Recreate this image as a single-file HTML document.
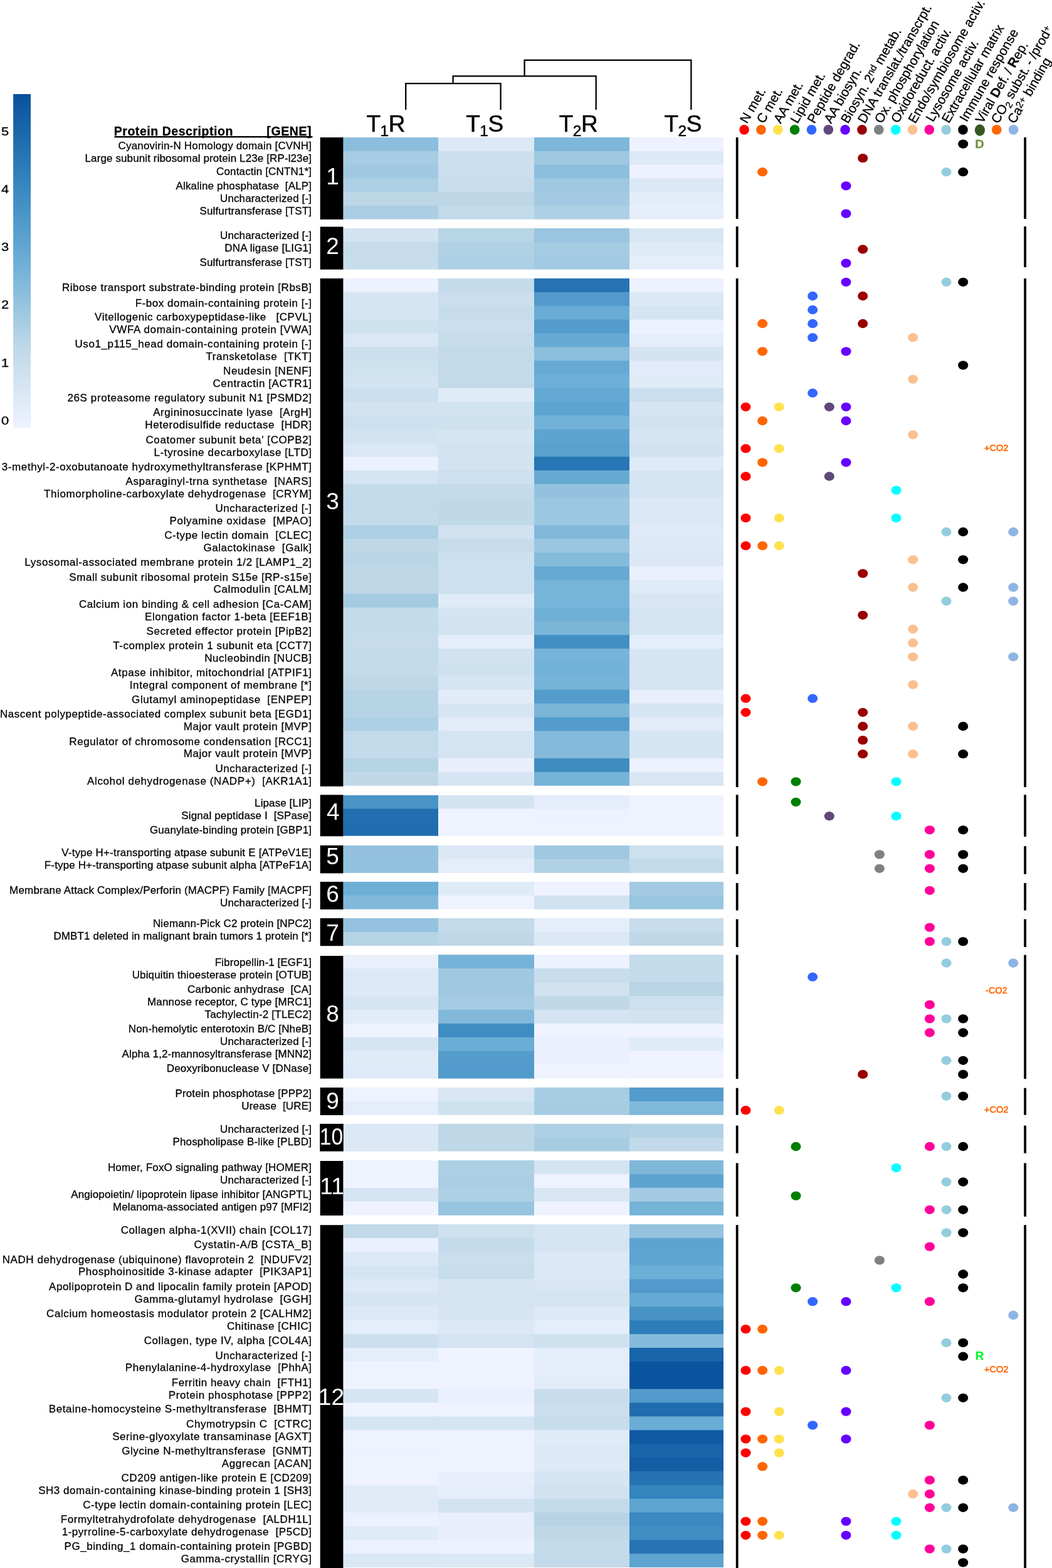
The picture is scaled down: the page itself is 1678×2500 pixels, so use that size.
<!DOCTYPE html>
<html lang="en"><head><meta charset="utf-8"><title>Protein heatmap</title>
<style>
html,body{margin:0;padding:0;background:#fff;}
body{width:1678px;height:2500px;overflow:hidden;}
svg{display:block;}
text{font-family:"Liberation Sans",sans-serif;white-space:pre;}
.lab{font-size:17px;fill:#000;stroke:#000;stroke-width:0.28px;}
.hd{font-size:19.5px;font-weight:bold;fill:#000;stroke:#000;stroke-width:0.3px;}
.cn{font-size:37px;fill:#fff;text-anchor:middle;}
.ct{font-size:37px;fill:#000;stroke:#000;stroke-width:0.5px;}
.rot{font-size:20.8px;fill:#000;stroke:#000;stroke-width:0.3px;}
.tk{font-size:18.6px;fill:#000;stroke:#000;stroke-width:0.3px;}
.mk{font-family:"Liberation Sans",sans-serif;font-weight:bold;}
</style></head><body>
<svg width="1678" height="2500" viewBox="0 0 1678 2500" role="img" aria-label="Protein abundance heatmap with functional categories">
<defs><linearGradient id="cb" x1="0" y1="1" x2="0" y2="0">
<stop offset="0" stop-color="#eff3ff"/>
<stop offset="0.25" stop-color="#bdd7e7"/>
<stop offset="0.5" stop-color="#6baed6"/>
<stop offset="0.75" stop-color="#3182bd"/>
<stop offset="1" stop-color="#08519c"/>
</linearGradient></defs>
<rect x="0" y="0" width="1678" height="2500" fill="#fff"/>
<rect x="21.1" y="150" width="27.9" height="531.9" fill="url(#cb)"/>
<text class="tk" transform="translate(2.1,677.0) scale(1.18,1)" x="0" y="0">0</text>
<text class="tk" transform="translate(2.1,584.7) scale(1.18,1)" x="0" y="0">1</text>
<text class="tk" transform="translate(2.1,492.4) scale(1.18,1)" x="0" y="0">2</text>
<text class="tk" transform="translate(2.1,400.1) scale(1.18,1)" x="0" y="0">3</text>
<text class="tk" transform="translate(2.1,307.8) scale(1.18,1)" x="0" y="0">4</text>
<text class="tk" transform="translate(2.1,215.5) scale(1.18,1)" x="0" y="0">5</text>
<g fill="none" stroke="#000" stroke-width="2.3" stroke-linejoin="miter">
<path d="M647.2 175 V133.2 H798.6 V175"/>
<path d="M722.6 133.2 V121.3 H950.7 V175"/>
<path d="M836.6 121.3 V95.8 H1102.4 V175"/>
</g>
<text class="ct" x="584.6" y="209.9">T<tspan font-size="24.5" dx="-0.6" dy="6.8">1</tspan><tspan dx="-0.5" dy="-6.8">R</tspan></text>
<text class="ct" x="743.3" y="209.9">T<tspan font-size="24.5" dx="-0.6" dy="6.8">1</tspan><tspan dx="-0.5" dy="-6.8">S</tspan></text>
<text class="ct" x="891.8" y="209.9">T<tspan font-size="24.5" dx="-0.6" dy="6.8">2</tspan><tspan dx="-0.5" dy="-6.8">R</tspan></text>
<text class="ct" x="1059.6" y="209.9">T<tspan font-size="24.5" dx="-0.6" dy="6.8">2</tspan><tspan dx="-0.5" dy="-6.8">S</tspan></text>
<text class="hd" x="181.7" y="215.8" textLength="189.7" lengthAdjust="spacing">Protein Description</text>
<text class="hd" x="425.3" y="215.8" textLength="71.2" lengthAdjust="spacing">[GENE]</text>
<rect x="182.5" y="217.0" width="316.0" height="2.4" fill="#000"/>
<rect x="547.2" y="219.10" width="152.8" height="22.77" fill="#8abedc"/>
<rect x="699.0" y="219.10" width="154.0" height="22.77" fill="#dbe8f5"/>
<rect x="852.0" y="219.10" width="153.0" height="22.77" fill="#7eb7da"/>
<rect x="1004.0" y="219.10" width="150.0" height="22.77" fill="#eef2ff"/>
<text class="lab" x="188.5" y="238.4" textLength="308.5" lengthAdjust="spacing">Cyanovirin-N Homology domain [CVNH]</text>
<rect x="547.2" y="240.87" width="152.8" height="22.77" fill="#a8cce3"/>
<rect x="699.0" y="240.87" width="154.0" height="22.77" fill="#cbdfee"/>
<rect x="852.0" y="240.87" width="153.0" height="22.77" fill="#9fc8e1"/>
<rect x="1004.0" y="240.87" width="150.0" height="22.77" fill="#dde9f6"/>
<text class="lab" x="135.5" y="258.4" textLength="361.5" lengthAdjust="spacing">Large subunit ribosomal protein L23e [RP-l23e]</text>
<rect x="547.2" y="262.63" width="152.8" height="22.77" fill="#a0c9e1"/>
<rect x="699.0" y="262.63" width="154.0" height="22.77" fill="#cbdfee"/>
<rect x="852.0" y="262.63" width="153.0" height="22.77" fill="#8cbedd"/>
<rect x="1004.0" y="262.63" width="150.0" height="22.77" fill="#eef2ff"/>
<text class="lab" x="345.0" y="278.9" textLength="152.0" lengthAdjust="spacing">Contactin [CNTN1*]</text>
<rect x="547.2" y="284.40" width="152.8" height="22.77" fill="#aed0e4"/>
<rect x="699.0" y="284.40" width="154.0" height="22.77" fill="#c9deed"/>
<rect x="852.0" y="284.40" width="153.0" height="22.77" fill="#9fc8e1"/>
<rect x="1004.0" y="284.40" width="150.0" height="22.77" fill="#dbe8f5"/>
<text class="lab" x="280.5" y="302.1" textLength="216.5" lengthAdjust="spacing">Alkaline phosphatase  [ALP]</text>
<rect x="547.2" y="306.17" width="152.8" height="22.77" fill="#bdd7e7"/>
<rect x="699.0" y="306.17" width="154.0" height="22.77" fill="#bdd7e7"/>
<rect x="852.0" y="306.17" width="153.0" height="22.77" fill="#a3cae2"/>
<rect x="1004.0" y="306.17" width="150.0" height="22.77" fill="#e3ecf9"/>
<text class="lab" x="351.0" y="322.0" textLength="146.0" lengthAdjust="spacing">Uncharacterized [-]</text>
<rect x="547.2" y="327.93" width="152.8" height="21.77" fill="#abcee3"/>
<rect x="699.0" y="327.93" width="154.0" height="21.77" fill="#c2dae9"/>
<rect x="852.0" y="327.93" width="153.0" height="21.77" fill="#afd0e4"/>
<rect x="1004.0" y="327.93" width="150.0" height="21.77" fill="#e6eefb"/>
<text class="lab" x="318.5" y="341.9" textLength="178.5" lengthAdjust="spacing">Sulfurtransferase [TST]</text>
<rect x="510.7" y="219.1" width="36.7" height="130.8" fill="#000"/>
<text class="cn" x="530.5" y="293.9">1</text>
<rect x="1173.8" y="219.1" width="3.8" height="129.9" fill="#000"/>
<rect x="1633.2" y="219.1" width="3.8" height="129.9" fill="#000"/>
<rect x="547.2" y="364.00" width="152.8" height="22.87" fill="#d3e3f2"/>
<rect x="699.0" y="364.00" width="154.0" height="22.87" fill="#b8d5e6"/>
<rect x="852.0" y="364.00" width="153.0" height="22.87" fill="#99c5e0"/>
<rect x="1004.0" y="364.00" width="150.0" height="22.87" fill="#d7e6f3"/>
<text class="lab" x="351.0" y="381.0" textLength="146.0" lengthAdjust="spacing">Uncharacterized [-]</text>
<rect x="547.2" y="385.87" width="152.8" height="22.87" fill="#c6dceb"/>
<rect x="699.0" y="385.87" width="154.0" height="22.87" fill="#b1d1e4"/>
<rect x="852.0" y="385.87" width="153.0" height="22.87" fill="#a4cbe2"/>
<rect x="1004.0" y="385.87" width="150.0" height="22.87" fill="#dfeaf7"/>
<text class="lab" x="358.3" y="400.9" textLength="138.7" lengthAdjust="spacing">DNA ligase [LIG1]</text>
<rect x="547.2" y="407.73" width="152.8" height="21.87" fill="#c7ddec"/>
<rect x="699.0" y="407.73" width="154.0" height="21.87" fill="#aed0e4"/>
<rect x="852.0" y="407.73" width="153.0" height="21.87" fill="#a1c9e1"/>
<rect x="1004.0" y="407.73" width="150.0" height="21.87" fill="#e5edfa"/>
<text class="lab" x="318.5" y="424.1" textLength="178.5" lengthAdjust="spacing">Sulfurtransferase [TST]</text>
<rect x="510.7" y="361.5" width="36.7" height="68.2" fill="#000"/>
<text class="cn" x="530.5" y="405.4">2</text>
<rect x="1173.8" y="361.1" width="3.8" height="64.9" fill="#000"/>
<rect x="1633.2" y="361.1" width="3.8" height="64.9" fill="#000"/>
<rect x="547.2" y="443.90" width="152.8" height="22.86" fill="#ecf2fe"/>
<rect x="699.0" y="443.90" width="154.0" height="22.86" fill="#c4dbeb"/>
<rect x="852.0" y="443.90" width="153.0" height="22.86" fill="#2573b3"/>
<rect x="1004.0" y="443.90" width="150.0" height="22.86" fill="#eef2fe"/>
<text class="lab" x="99.0" y="464.4" textLength="398.0" lengthAdjust="spacing">Ribose transport substrate-binding protein [RbsB]</text>
<rect x="547.2" y="465.76" width="152.8" height="22.86" fill="#d6e5f3"/>
<rect x="699.0" y="465.76" width="154.0" height="22.86" fill="#cadeed"/>
<rect x="852.0" y="465.76" width="153.0" height="22.86" fill="#519acb"/>
<rect x="1004.0" y="465.76" width="150.0" height="22.86" fill="#dbe8f5"/>
<text class="lab" x="215.7" y="488.5" textLength="281.3" lengthAdjust="spacing">F-box domain-containing protein [-]</text>
<rect x="547.2" y="487.62" width="152.8" height="22.86" fill="#d6e5f3"/>
<rect x="699.0" y="487.62" width="154.0" height="22.86" fill="#c6dceb"/>
<rect x="852.0" y="487.62" width="153.0" height="22.86" fill="#68acd5"/>
<rect x="1004.0" y="487.62" width="150.0" height="22.86" fill="#d6e5f3"/>
<text class="lab" x="151.1" y="511.0" textLength="345.9" lengthAdjust="spacing">Vitellogenic carboxypeptidase-like   [CPVL]</text>
<rect x="547.2" y="509.49" width="152.8" height="22.86" fill="#cee1ef"/>
<rect x="699.0" y="509.49" width="154.0" height="22.86" fill="#cadeed"/>
<rect x="852.0" y="509.49" width="153.0" height="22.86" fill="#549ccc"/>
<rect x="1004.0" y="509.49" width="150.0" height="22.86" fill="#ebf1fd"/>
<text class="lab" x="174.3" y="530.9" textLength="322.7" lengthAdjust="spacing">VWFA domain-containing protein [VWA]</text>
<rect x="547.2" y="531.35" width="152.8" height="22.86" fill="#dae7f5"/>
<rect x="699.0" y="531.35" width="154.0" height="22.86" fill="#c6dceb"/>
<rect x="852.0" y="531.35" width="153.0" height="22.86" fill="#66aad4"/>
<rect x="1004.0" y="531.35" width="150.0" height="22.86" fill="#e4edfa"/>
<text class="lab" x="119.5" y="554.1" textLength="377.5" lengthAdjust="spacing">Uso1_p115_head domain-containing protein [-]</text>
<rect x="547.2" y="553.21" width="152.8" height="22.86" fill="#ccdfee"/>
<rect x="699.0" y="553.21" width="154.0" height="22.86" fill="#c3daea"/>
<rect x="852.0" y="553.21" width="153.0" height="22.86" fill="#8abedc"/>
<rect x="1004.0" y="553.21" width="150.0" height="22.86" fill="#d5e4f3"/>
<text class="lab" x="328.5" y="574.0" textLength="168.5" lengthAdjust="spacing">Transketolase  [TKT]</text>
<rect x="547.2" y="575.07" width="152.8" height="22.86" fill="#cee1ef"/>
<rect x="699.0" y="575.07" width="154.0" height="22.86" fill="#c3daea"/>
<rect x="852.0" y="575.07" width="153.0" height="22.86" fill="#66aad4"/>
<rect x="1004.0" y="575.07" width="150.0" height="22.86" fill="#e2ebf9"/>
<text class="lab" x="356.0" y="596.9" textLength="141.0" lengthAdjust="spacing">Neudesin [NENF]</text>
<rect x="547.2" y="596.94" width="152.8" height="22.86" fill="#d2e3f1"/>
<rect x="699.0" y="596.94" width="154.0" height="22.86" fill="#c3daea"/>
<rect x="852.0" y="596.94" width="153.0" height="22.86" fill="#6dafd7"/>
<rect x="1004.0" y="596.94" width="150.0" height="22.86" fill="#e0ebf8"/>
<text class="lab" x="339.5" y="617.2" textLength="157.5" lengthAdjust="spacing">Centractin [ACTR1]</text>
<rect x="547.2" y="618.80" width="152.8" height="22.86" fill="#ccdfee"/>
<rect x="699.0" y="618.80" width="154.0" height="22.86" fill="#e0ebf8"/>
<rect x="852.0" y="618.80" width="153.0" height="22.86" fill="#64a9d3"/>
<rect x="1004.0" y="618.80" width="150.0" height="22.86" fill="#cbdfee"/>
<text class="lab" x="107.5" y="640.0" textLength="389.5" lengthAdjust="spacing">26S proteasome regulatory subunit N1 [PSMD2]</text>
<rect x="547.2" y="640.66" width="152.8" height="22.86" fill="#d2e3f1"/>
<rect x="699.0" y="640.66" width="154.0" height="22.86" fill="#d2e3f1"/>
<rect x="852.0" y="640.66" width="153.0" height="22.86" fill="#5ea4d0"/>
<rect x="1004.0" y="640.66" width="150.0" height="22.86" fill="#d6e5f3"/>
<text class="lab" x="244.2" y="663.3" textLength="252.8" lengthAdjust="spacing">Argininosuccinate lyase  [ArgH]</text>
<rect x="547.2" y="662.52" width="152.8" height="22.86" fill="#cde0ef"/>
<rect x="699.0" y="662.52" width="154.0" height="22.86" fill="#cee1ef"/>
<rect x="852.0" y="662.52" width="153.0" height="22.86" fill="#73b2d8"/>
<rect x="1004.0" y="662.52" width="150.0" height="22.86" fill="#d0e2f0"/>
<text class="lab" x="231.3" y="683.1" textLength="265.7" lengthAdjust="spacing">Heterodisulfide reductase  [HDR]</text>
<rect x="547.2" y="684.38" width="152.8" height="22.86" fill="#d2e3f1"/>
<rect x="699.0" y="684.38" width="154.0" height="22.86" fill="#d6e5f3"/>
<rect x="852.0" y="684.38" width="153.0" height="22.86" fill="#5ea4d0"/>
<rect x="1004.0" y="684.38" width="150.0" height="22.86" fill="#d6e5f3"/>
<text class="lab" x="232.5" y="706.7" textLength="264.5" lengthAdjust="spacing">Coatomer subunit beta&#x27; [COPB2]</text>
<rect x="547.2" y="706.25" width="152.8" height="22.86" fill="#dae7f5"/>
<rect x="699.0" y="706.25" width="154.0" height="22.86" fill="#d2e3f1"/>
<rect x="852.0" y="706.25" width="153.0" height="22.86" fill="#5aa1ce"/>
<rect x="1004.0" y="706.25" width="150.0" height="22.86" fill="#d1e2f1"/>
<text class="lab" x="245.5" y="726.7" textLength="251.5" lengthAdjust="spacing">L-tyrosine decarboxylase [LTD]</text>
<rect x="547.2" y="728.11" width="152.8" height="22.86" fill="#ebf1fd"/>
<rect x="699.0" y="728.11" width="154.0" height="22.86" fill="#d2e3f1"/>
<rect x="852.0" y="728.11" width="153.0" height="22.86" fill="#2776b5"/>
<rect x="1004.0" y="728.11" width="150.0" height="22.86" fill="#deeaf7"/>
<text class="lab" x="2.8" y="749.8" textLength="494.2" lengthAdjust="spacing">3-methyl-2-oxobutanoate hydroxymethyltransferase [KPHMT]</text>
<rect x="547.2" y="749.97" width="152.8" height="22.86" fill="#d6e5f3"/>
<rect x="699.0" y="749.97" width="154.0" height="22.86" fill="#cde0ef"/>
<rect x="852.0" y="749.97" width="153.0" height="22.86" fill="#66aad4"/>
<rect x="1004.0" y="749.97" width="150.0" height="22.86" fill="#d4e4f2"/>
<text class="lab" x="200.5" y="773.0" textLength="296.5" lengthAdjust="spacing">Asparaginyl-trna synthetase  [NARS]</text>
<rect x="547.2" y="771.83" width="152.8" height="22.86" fill="#c4dbeb"/>
<rect x="699.0" y="771.83" width="154.0" height="22.86" fill="#c4dbeb"/>
<rect x="852.0" y="771.83" width="153.0" height="22.86" fill="#94c2de"/>
<rect x="1004.0" y="771.83" width="150.0" height="22.86" fill="#d6e5f3"/>
<text class="lab" x="70.1" y="792.9" textLength="426.9" lengthAdjust="spacing">Thiomorpholine-carboxylate dehydrogenase  [CRYM]</text>
<rect x="547.2" y="793.69" width="152.8" height="22.86" fill="#c3daea"/>
<rect x="699.0" y="793.69" width="154.0" height="22.86" fill="#c0d9e9"/>
<rect x="852.0" y="793.69" width="153.0" height="22.86" fill="#9cc7e0"/>
<rect x="1004.0" y="793.69" width="150.0" height="22.86" fill="#dbe8f5"/>
<text class="lab" x="343.4" y="816.1" textLength="153.6" lengthAdjust="spacing">Uncharacterized [-]</text>
<rect x="547.2" y="815.56" width="152.8" height="22.86" fill="#c4dbeb"/>
<rect x="699.0" y="815.56" width="154.0" height="22.86" fill="#c0d9e9"/>
<rect x="852.0" y="815.56" width="153.0" height="22.86" fill="#9cc7e0"/>
<rect x="1004.0" y="815.56" width="150.0" height="22.86" fill="#dbe8f5"/>
<text class="lab" x="270.5" y="835.7" textLength="226.5" lengthAdjust="spacing">Polyamine oxidase  [MPAO]</text>
<rect x="547.2" y="837.42" width="152.8" height="22.86" fill="#aed0e4"/>
<rect x="699.0" y="837.42" width="154.0" height="22.86" fill="#d1e2f1"/>
<rect x="852.0" y="837.42" width="153.0" height="22.86" fill="#82b9db"/>
<rect x="1004.0" y="837.42" width="150.0" height="22.86" fill="#deeaf7"/>
<text class="lab" x="262.2" y="858.9" textLength="234.8" lengthAdjust="spacing">C-type lectin domain  [CLEC]</text>
<rect x="547.2" y="859.28" width="152.8" height="22.86" fill="#bed8e7"/>
<rect x="699.0" y="859.28" width="154.0" height="22.86" fill="#c6dceb"/>
<rect x="852.0" y="859.28" width="153.0" height="22.86" fill="#9bc6e0"/>
<rect x="1004.0" y="859.28" width="150.0" height="22.86" fill="#dde9f6"/>
<text class="lab" x="324.5" y="878.8" textLength="172.5" lengthAdjust="spacing">Galactokinase  [Galk]</text>
<rect x="547.2" y="881.14" width="152.8" height="22.86" fill="#b9d5e6"/>
<rect x="699.0" y="881.14" width="154.0" height="22.86" fill="#cde0ef"/>
<rect x="852.0" y="881.14" width="153.0" height="22.86" fill="#85bbdb"/>
<rect x="1004.0" y="881.14" width="150.0" height="22.86" fill="#dce8f6"/>
<text class="lab" x="39.3" y="902.0" textLength="457.7" lengthAdjust="spacing">Lysosomal-associated membrane protein 1/2 [LAMP1_2]</text>
<rect x="547.2" y="903.01" width="152.8" height="22.86" fill="#bed8e7"/>
<rect x="699.0" y="903.01" width="154.0" height="22.86" fill="#cde0ef"/>
<rect x="852.0" y="903.01" width="153.0" height="22.86" fill="#66aad4"/>
<rect x="1004.0" y="903.01" width="150.0" height="22.86" fill="#e9f0fc"/>
<text class="lab" x="110.3" y="925.6" textLength="386.7" lengthAdjust="spacing">Small subunit ribosomal protein S15e [RP-s15e]</text>
<rect x="547.2" y="924.87" width="152.8" height="22.86" fill="#bed8e7"/>
<rect x="699.0" y="924.87" width="154.0" height="22.86" fill="#cde0ef"/>
<rect x="852.0" y="924.87" width="153.0" height="22.86" fill="#77b4d9"/>
<rect x="1004.0" y="924.87" width="150.0" height="22.86" fill="#deeaf7"/>
<text class="lab" x="340.5" y="945.4" textLength="156.5" lengthAdjust="spacing">Calmodulin [CALM]</text>
<rect x="547.2" y="946.73" width="152.8" height="22.86" fill="#a4cbe2"/>
<rect x="699.0" y="946.73" width="154.0" height="22.86" fill="#e0ebf8"/>
<rect x="852.0" y="946.73" width="153.0" height="22.86" fill="#77b4d9"/>
<rect x="1004.0" y="946.73" width="150.0" height="22.86" fill="#d8e6f4"/>
<text class="lab" x="125.9" y="968.7" textLength="371.1" lengthAdjust="spacing">Calcium ion binding &amp; cell adhesion [Ca-CAM]</text>
<rect x="547.2" y="968.59" width="152.8" height="22.86" fill="#c4dbeb"/>
<rect x="699.0" y="968.59" width="154.0" height="22.86" fill="#d5e4f3"/>
<rect x="852.0" y="968.59" width="153.0" height="22.86" fill="#6fb0d7"/>
<rect x="1004.0" y="968.59" width="150.0" height="22.86" fill="#d4e4f2"/>
<text class="lab" x="231.0" y="988.6" textLength="266.0" lengthAdjust="spacing">Elongation factor 1-beta [EEF1B]</text>
<rect x="547.2" y="990.45" width="152.8" height="22.86" fill="#c4dbeb"/>
<rect x="699.0" y="990.45" width="154.0" height="22.86" fill="#d2e3f1"/>
<rect x="852.0" y="990.45" width="153.0" height="22.86" fill="#7bb6d9"/>
<rect x="1004.0" y="990.45" width="150.0" height="22.86" fill="#d4e4f2"/>
<text class="lab" x="233.5" y="1011.8" textLength="263.5" lengthAdjust="spacing">Secreted effector protein [PipB2]</text>
<rect x="547.2" y="1012.32" width="152.8" height="22.86" fill="#c6dceb"/>
<rect x="699.0" y="1012.32" width="154.0" height="22.86" fill="#e5edfa"/>
<rect x="852.0" y="1012.32" width="153.0" height="22.86" fill="#428fc4"/>
<rect x="1004.0" y="1012.32" width="150.0" height="22.86" fill="#e4edfa"/>
<text class="lab" x="180.2" y="1035.0" textLength="316.8" lengthAdjust="spacing">T-complex protein 1 subunit eta [CCT7]</text>
<rect x="547.2" y="1034.18" width="152.8" height="22.86" fill="#c4dbeb"/>
<rect x="699.0" y="1034.18" width="154.0" height="22.86" fill="#d1e2f1"/>
<rect x="852.0" y="1034.18" width="153.0" height="22.86" fill="#77b4d9"/>
<rect x="1004.0" y="1034.18" width="150.0" height="22.86" fill="#d6e5f3"/>
<text class="lab" x="326.2" y="1054.9" textLength="170.8" lengthAdjust="spacing">Nucleobindin [NUCB]</text>
<rect x="547.2" y="1056.04" width="152.8" height="22.86" fill="#c4dbeb"/>
<rect x="699.0" y="1056.04" width="154.0" height="22.86" fill="#cee1ef"/>
<rect x="852.0" y="1056.04" width="153.0" height="22.86" fill="#73b2d8"/>
<rect x="1004.0" y="1056.04" width="150.0" height="22.86" fill="#d6e5f3"/>
<text class="lab" x="176.9" y="1077.8" textLength="320.1" lengthAdjust="spacing">Atpase inhibitor, mitochondrial [ATPIF1]</text>
<rect x="547.2" y="1077.90" width="152.8" height="22.86" fill="#bed8e7"/>
<rect x="699.0" y="1077.90" width="154.0" height="22.86" fill="#d6e5f3"/>
<rect x="852.0" y="1077.90" width="153.0" height="22.86" fill="#76b3d8"/>
<rect x="1004.0" y="1077.90" width="150.0" height="22.86" fill="#d5e4f3"/>
<text class="lab" x="206.8" y="1097.7" textLength="290.2" lengthAdjust="spacing">Integral component of membrane [*]</text>
<rect x="547.2" y="1099.76" width="152.8" height="22.86" fill="#b6d4e6"/>
<rect x="699.0" y="1099.76" width="154.0" height="22.86" fill="#e2ecf9"/>
<rect x="852.0" y="1099.76" width="153.0" height="22.86" fill="#549ccc"/>
<rect x="1004.0" y="1099.76" width="150.0" height="22.86" fill="#e8effb"/>
<text class="lab" x="210.1" y="1120.9" textLength="286.9" lengthAdjust="spacing">Glutamyl aminopeptidase  [ENPEP]</text>
<rect x="547.2" y="1121.63" width="152.8" height="22.86" fill="#b6d4e6"/>
<rect x="699.0" y="1121.63" width="154.0" height="22.86" fill="#d6e5f3"/>
<rect x="852.0" y="1121.63" width="153.0" height="22.86" fill="#7bb6d9"/>
<rect x="1004.0" y="1121.63" width="150.0" height="22.86" fill="#d6e5f3"/>
<text class="lab" x="0.0" y="1144.4" textLength="497.0" lengthAdjust="spacing">Nascent polypeptide-associated complex subunit beta [EGD1]</text>
<rect x="547.2" y="1143.49" width="152.8" height="22.86" fill="#aed0e4"/>
<rect x="699.0" y="1143.49" width="154.0" height="22.86" fill="#e2ecf9"/>
<rect x="852.0" y="1143.49" width="153.0" height="22.86" fill="#549ccc"/>
<rect x="1004.0" y="1143.49" width="150.0" height="22.86" fill="#e2ecf9"/>
<text class="lab" x="292.7" y="1164.4" textLength="204.3" lengthAdjust="spacing">Major vault protein [MVP]</text>
<rect x="547.2" y="1165.35" width="152.8" height="22.86" fill="#c3daea"/>
<rect x="699.0" y="1165.35" width="154.0" height="22.86" fill="#d5e4f3"/>
<rect x="852.0" y="1165.35" width="153.0" height="22.86" fill="#84badb"/>
<rect x="1004.0" y="1165.35" width="150.0" height="22.86" fill="#d6e5f3"/>
<text class="lab" x="110.3" y="1187.6" textLength="386.7" lengthAdjust="spacing">Regulator of chromosome condensation [RCC1]</text>
<rect x="547.2" y="1187.21" width="152.8" height="22.86" fill="#c3daea"/>
<rect x="699.0" y="1187.21" width="154.0" height="22.86" fill="#d5e4f3"/>
<rect x="852.0" y="1187.21" width="153.0" height="22.86" fill="#84badb"/>
<rect x="1004.0" y="1187.21" width="150.0" height="22.86" fill="#d6e5f3"/>
<text class="lab" x="292.7" y="1207.4" textLength="204.3" lengthAdjust="spacing">Major vault protein [MVP]</text>
<rect x="547.2" y="1209.08" width="152.8" height="22.86" fill="#b6d4e6"/>
<rect x="699.0" y="1209.08" width="154.0" height="22.86" fill="#e8effb"/>
<rect x="852.0" y="1209.08" width="153.0" height="22.86" fill="#3e8cc2"/>
<rect x="1004.0" y="1209.08" width="150.0" height="22.86" fill="#eef2fe"/>
<text class="lab" x="343.4" y="1230.7" textLength="153.6" lengthAdjust="spacing">Uncharacterized [-]</text>
<rect x="547.2" y="1230.94" width="152.8" height="21.86" fill="#c0d8e8"/>
<rect x="699.0" y="1230.94" width="154.0" height="21.86" fill="#d6e5f3"/>
<rect x="852.0" y="1230.94" width="153.0" height="21.86" fill="#76b3d8"/>
<rect x="1004.0" y="1230.94" width="150.0" height="21.86" fill="#d8e6f4"/>
<text class="lab" x="139.1" y="1250.6" textLength="357.9" lengthAdjust="spacing">Alcohol dehydrogenase (NADP+)  [AKR1A1]</text>
<rect x="510.7" y="443.9" width="36.7" height="809.9" fill="#000"/>
<text class="cn" x="530.5" y="812.2">3</text>
<rect x="1173.8" y="444.0" width="3.8" height="811.0" fill="#000"/>
<rect x="1633.2" y="444.0" width="3.8" height="811.0" fill="#000"/>
<rect x="547.2" y="1267.90" width="152.8" height="22.60" fill="#4894c7"/>
<rect x="699.0" y="1267.90" width="154.0" height="22.60" fill="#d5e4f3"/>
<rect x="852.0" y="1267.90" width="153.0" height="22.60" fill="#e5edfa"/>
<rect x="1004.0" y="1267.90" width="150.0" height="22.60" fill="#eff3ff"/>
<text class="lab" x="406.1" y="1285.9" textLength="90.9" lengthAdjust="spacing">Lipase [LIP]</text>
<rect x="547.2" y="1289.50" width="152.8" height="22.60" fill="#216eb0"/>
<rect x="699.0" y="1289.50" width="154.0" height="22.60" fill="#eff3ff"/>
<rect x="852.0" y="1289.50" width="153.0" height="22.60" fill="#ecf2fe"/>
<rect x="1004.0" y="1289.50" width="150.0" height="22.60" fill="#eff3ff"/>
<text class="lab" x="289.3" y="1305.8" textLength="207.7" lengthAdjust="spacing">Signal peptidase I  [SPase]</text>
<rect x="547.2" y="1311.10" width="152.8" height="21.60" fill="#1f6cae"/>
<rect x="699.0" y="1311.10" width="154.0" height="21.60" fill="#eff3ff"/>
<rect x="852.0" y="1311.10" width="153.0" height="21.60" fill="#eff3ff"/>
<rect x="1004.0" y="1311.10" width="150.0" height="21.60" fill="#eff3ff"/>
<text class="lab" x="238.9" y="1329.0" textLength="258.1" lengthAdjust="spacing">Guanylate-binding protein [GBP1]</text>
<rect x="510.7" y="1267.3" width="36.7" height="66.0" fill="#000"/>
<text class="cn" x="531.2" y="1307.1">4</text>
<rect x="1173.8" y="1267.2" width="3.8" height="66.7" fill="#000"/>
<rect x="1633.2" y="1267.2" width="3.8" height="66.7" fill="#000"/>
<rect x="547.2" y="1348.00" width="152.8" height="22.90" fill="#94c2de"/>
<rect x="699.0" y="1348.00" width="154.0" height="22.90" fill="#dce8f6"/>
<rect x="852.0" y="1348.00" width="153.0" height="22.90" fill="#a0c9e1"/>
<rect x="1004.0" y="1348.00" width="150.0" height="22.90" fill="#cde0ef"/>
<text class="lab" x="98.3" y="1364.8" textLength="398.7" lengthAdjust="spacing">V-type H+-transporting atpase subunit E [ATPeV1E]</text>
<rect x="547.2" y="1369.90" width="152.8" height="21.90" fill="#92c2de"/>
<rect x="699.0" y="1369.90" width="154.0" height="21.90" fill="#e5edfa"/>
<rect x="852.0" y="1369.90" width="153.0" height="21.90" fill="#b1d1e4"/>
<rect x="1004.0" y="1369.90" width="150.0" height="21.90" fill="#c2dae9"/>
<text class="lab" x="70.8" y="1384.7" textLength="426.2" lengthAdjust="spacing">F-type H+-transporting atpase subunit alpha [ATPeF1A]</text>
<rect x="510.7" y="1347.9" width="36.7" height="44.5" fill="#000"/>
<text class="cn" x="530.5" y="1378.2">5</text>
<rect x="1173.8" y="1349.1" width="3.8" height="44.6" fill="#000"/>
<rect x="1633.2" y="1349.1" width="3.8" height="44.6" fill="#000"/>
<rect x="547.2" y="1405.90" width="152.8" height="22.90" fill="#6dafd7"/>
<rect x="699.0" y="1405.90" width="154.0" height="22.90" fill="#e0ebf8"/>
<rect x="852.0" y="1405.90" width="153.0" height="22.90" fill="#eff3ff"/>
<rect x="1004.0" y="1405.90" width="150.0" height="22.90" fill="#a3cae2"/>
<text class="lab" x="15.1" y="1425.2" textLength="481.9" lengthAdjust="spacing">Membrane Attack Complex/Perforin (MACPF) Family [MACPF]</text>
<rect x="547.2" y="1427.80" width="152.8" height="21.90" fill="#82b9db"/>
<rect x="699.0" y="1427.80" width="154.0" height="21.90" fill="#eff3ff"/>
<rect x="852.0" y="1427.80" width="153.0" height="21.90" fill="#d0e2f0"/>
<rect x="1004.0" y="1427.80" width="150.0" height="21.90" fill="#98c5df"/>
<text class="lab" x="351.0" y="1445.1" textLength="146.0" lengthAdjust="spacing">Uncharacterized [-]</text>
<rect x="510.7" y="1405.9" width="36.7" height="44.1" fill="#000"/>
<text class="cn" x="530.5" y="1438.4">6</text>
<rect x="1173.8" y="1407.9" width="3.8" height="43.6" fill="#000"/>
<rect x="1633.2" y="1407.9" width="3.8" height="43.6" fill="#000"/>
<rect x="547.2" y="1464.00" width="152.8" height="22.95" fill="#94c2de"/>
<rect x="699.0" y="1464.00" width="154.0" height="22.95" fill="#c4dbeb"/>
<rect x="852.0" y="1464.00" width="153.0" height="22.95" fill="#e5edfa"/>
<rect x="1004.0" y="1464.00" width="150.0" height="22.95" fill="#c7ddec"/>
<text class="lab" x="243.9" y="1478.2" textLength="253.1" lengthAdjust="spacing">Niemann-Pick C2 protein [NPC2]</text>
<rect x="547.2" y="1485.95" width="152.8" height="21.95" fill="#b6d4e6"/>
<rect x="699.0" y="1485.95" width="154.0" height="21.95" fill="#c0d8e8"/>
<rect x="852.0" y="1485.95" width="153.0" height="21.95" fill="#dce8f6"/>
<rect x="1004.0" y="1485.95" width="150.0" height="21.95" fill="#c0d8e8"/>
<text class="lab" x="85.4" y="1498.1" textLength="411.6" lengthAdjust="spacing">DMBT1 deleted in malignant brain tumors 1 protein [*]</text>
<rect x="510.7" y="1464.0" width="36.7" height="44.2" fill="#000"/>
<text class="cn" x="530.5" y="1499.7">7</text>
<rect x="1173.8" y="1465.5" width="3.8" height="44.5" fill="#000"/>
<rect x="1633.2" y="1465.5" width="3.8" height="44.5" fill="#000"/>
<rect x="547.2" y="1522.20" width="152.8" height="22.93" fill="#e9f0fc"/>
<rect x="699.0" y="1522.20" width="154.0" height="22.93" fill="#75b3d8"/>
<rect x="852.0" y="1522.20" width="153.0" height="22.93" fill="#ecf2fe"/>
<rect x="1004.0" y="1522.20" width="150.0" height="22.93" fill="#c4dbeb"/>
<text class="lab" x="342.7" y="1539.8" textLength="154.3" lengthAdjust="spacing">Fibropellin-1 [EGF1]</text>
<rect x="547.2" y="1544.13" width="152.8" height="22.93" fill="#dce8f6"/>
<rect x="699.0" y="1544.13" width="154.0" height="22.93" fill="#a0c9e1"/>
<rect x="852.0" y="1544.13" width="153.0" height="22.93" fill="#c7ddec"/>
<rect x="1004.0" y="1544.13" width="150.0" height="22.93" fill="#c4dbeb"/>
<text class="lab" x="210.7" y="1559.8" textLength="286.3" lengthAdjust="spacing">Ubiquitin thioesterase protein [OTUB]</text>
<rect x="547.2" y="1566.07" width="152.8" height="22.93" fill="#dee9f7"/>
<rect x="699.0" y="1566.07" width="154.0" height="22.93" fill="#a0c9e1"/>
<rect x="852.0" y="1566.07" width="153.0" height="22.93" fill="#d1e2f1"/>
<rect x="1004.0" y="1566.07" width="150.0" height="22.93" fill="#b9d5e6"/>
<text class="lab" x="299.0" y="1583.0" textLength="198.0" lengthAdjust="spacing">Carbonic anhydrase  [CA]</text>
<rect x="547.2" y="1588.00" width="152.8" height="22.93" fill="#d6e5f3"/>
<rect x="699.0" y="1588.00" width="154.0" height="22.93" fill="#a4cbe2"/>
<rect x="852.0" y="1588.00" width="153.0" height="22.93" fill="#c0d8e8"/>
<rect x="1004.0" y="1588.00" width="150.0" height="22.93" fill="#cde0ef"/>
<text class="lab" x="235.0" y="1602.9" textLength="262.0" lengthAdjust="spacing">Mannose receptor, C type [MRC1]</text>
<rect x="547.2" y="1609.93" width="152.8" height="22.93" fill="#e2ecf9"/>
<rect x="699.0" y="1609.93" width="154.0" height="22.93" fill="#82b9db"/>
<rect x="852.0" y="1609.93" width="153.0" height="22.93" fill="#d5e4f3"/>
<rect x="1004.0" y="1609.93" width="150.0" height="22.93" fill="#d2e3f1"/>
<text class="lab" x="326.5" y="1622.8" textLength="170.5" lengthAdjust="spacing">Tachylectin-2 [TLEC2]</text>
<rect x="547.2" y="1631.87" width="152.8" height="22.93" fill="#eff3ff"/>
<rect x="699.0" y="1631.87" width="154.0" height="22.93" fill="#408dc3"/>
<rect x="852.0" y="1631.87" width="153.0" height="22.93" fill="#eff3ff"/>
<rect x="1004.0" y="1631.87" width="150.0" height="22.93" fill="#eff3ff"/>
<text class="lab" x="204.8" y="1646.0" textLength="292.2" lengthAdjust="spacing">Non-hemolytic enterotoxin B/C [NheB]</text>
<rect x="547.2" y="1653.80" width="152.8" height="22.93" fill="#d6e5f3"/>
<rect x="699.0" y="1653.80" width="154.0" height="22.93" fill="#6aadd6"/>
<rect x="852.0" y="1653.80" width="153.0" height="22.93" fill="#eaf0fd"/>
<rect x="1004.0" y="1653.80" width="150.0" height="22.93" fill="#e0ebf8"/>
<text class="lab" x="351.0" y="1665.9" textLength="146.0" lengthAdjust="spacing">Uncharacterized [-]</text>
<rect x="547.2" y="1675.73" width="152.8" height="22.93" fill="#e0ebf8"/>
<rect x="699.0" y="1675.73" width="154.0" height="22.93" fill="#549ccc"/>
<rect x="852.0" y="1675.73" width="153.0" height="22.93" fill="#eaf0fd"/>
<rect x="1004.0" y="1675.73" width="150.0" height="22.93" fill="#eff3ff"/>
<text class="lab" x="194.5" y="1685.8" textLength="302.5" lengthAdjust="spacing">Alpha 1,2-mannosyltransferase [MNN2]</text>
<rect x="547.2" y="1697.67" width="152.8" height="21.93" fill="#deeaf7"/>
<rect x="699.0" y="1697.67" width="154.0" height="21.93" fill="#519acb"/>
<rect x="852.0" y="1697.67" width="153.0" height="21.93" fill="#eff3ff"/>
<rect x="1004.0" y="1697.67" width="150.0" height="21.93" fill="#eff3ff"/>
<text class="lab" x="265.8" y="1709.0" textLength="231.2" lengthAdjust="spacing">Deoxyribonuclease V [DNase]</text>
<rect x="510.7" y="1524.0" width="36.7" height="195.6" fill="#000"/>
<text class="cn" x="530.5" y="1629.4">8</text>
<rect x="1173.8" y="1522.5" width="3.8" height="197.7" fill="#000"/>
<rect x="1633.2" y="1522.5" width="3.8" height="197.7" fill="#000"/>
<rect x="547.2" y="1733.90" width="152.8" height="22.95" fill="#eff3ff"/>
<rect x="699.0" y="1733.90" width="154.0" height="22.95" fill="#d8e6f4"/>
<rect x="852.0" y="1733.90" width="153.0" height="22.95" fill="#a8cde3"/>
<rect x="1004.0" y="1733.90" width="150.0" height="22.95" fill="#549ccc"/>
<text class="lab" x="279.4" y="1748.8" textLength="217.6" lengthAdjust="spacing">Protein phosphotase [PPP2]</text>
<rect x="547.2" y="1755.85" width="152.8" height="21.95" fill="#e5edfa"/>
<rect x="699.0" y="1755.85" width="154.0" height="21.95" fill="#cee1ef"/>
<rect x="852.0" y="1755.85" width="153.0" height="21.95" fill="#a6cce2"/>
<rect x="1004.0" y="1755.85" width="150.0" height="21.95" fill="#80b8da"/>
<text class="lab" x="385.2" y="1768.7" textLength="111.8" lengthAdjust="spacing">Urease  [URE]</text>
<rect x="510.7" y="1734.0" width="36.7" height="44.0" fill="#000"/>
<text class="cn" x="530.5" y="1768.0">9</text>
<rect x="1173.8" y="1734.7" width="3.8" height="43.0" fill="#000"/>
<rect x="1633.2" y="1734.7" width="3.8" height="43.0" fill="#000"/>
<rect x="547.2" y="1791.80" width="152.8" height="22.95" fill="#dce8f6"/>
<rect x="699.0" y="1791.80" width="154.0" height="22.95" fill="#bed8e7"/>
<rect x="852.0" y="1791.80" width="153.0" height="22.95" fill="#aed0e4"/>
<rect x="1004.0" y="1791.80" width="150.0" height="22.95" fill="#b3d2e5"/>
<text class="lab" x="351.0" y="1805.7" textLength="146.0" lengthAdjust="spacing">Uncharacterized [-]</text>
<rect x="547.2" y="1813.75" width="152.8" height="21.95" fill="#dce8f6"/>
<rect x="699.0" y="1813.75" width="154.0" height="21.95" fill="#bed8e7"/>
<rect x="852.0" y="1813.75" width="153.0" height="21.95" fill="#a8cde3"/>
<rect x="1004.0" y="1813.75" width="150.0" height="21.95" fill="#c2dae9"/>
<text class="lab" x="275.4" y="1825.8" textLength="221.6" lengthAdjust="spacing">Phospholipase B-like [PLBD]</text>
<rect x="510.2" y="1791.8" width="37.6" height="43.9" fill="#000"/>
<text class="cn" x="528.6" y="1825.2" textLength="37.5" lengthAdjust="spacingAndGlyphs">10</text>
<rect x="1173.8" y="1794.6" width="3.8" height="44.0" fill="#000"/>
<rect x="1633.2" y="1794.6" width="3.8" height="44.0" fill="#000"/>
<rect x="547.2" y="1850.00" width="152.8" height="22.95" fill="#eff3ff"/>
<rect x="699.0" y="1850.00" width="154.0" height="22.95" fill="#aed0e4"/>
<rect x="852.0" y="1850.00" width="153.0" height="22.95" fill="#d4e4f2"/>
<rect x="1004.0" y="1850.00" width="150.0" height="22.95" fill="#80b8da"/>
<text class="lab" x="171.9" y="1866.6" textLength="325.1" lengthAdjust="spacing">Homer, FoxO signaling pathway [HOMER]</text>
<rect x="547.2" y="1871.95" width="152.8" height="22.95" fill="#eff3ff"/>
<rect x="699.0" y="1871.95" width="154.0" height="22.95" fill="#abcee3"/>
<rect x="852.0" y="1871.95" width="153.0" height="22.95" fill="#eff3ff"/>
<rect x="1004.0" y="1871.95" width="150.0" height="22.95" fill="#5ea4d0"/>
<text class="lab" x="351.0" y="1886.5" textLength="146.0" lengthAdjust="spacing">Uncharacterized [-]</text>
<rect x="547.2" y="1893.90" width="152.8" height="22.95" fill="#d6e5f3"/>
<rect x="699.0" y="1893.90" width="154.0" height="22.95" fill="#aed0e4"/>
<rect x="852.0" y="1893.90" width="153.0" height="22.95" fill="#d8e6f4"/>
<rect x="1004.0" y="1893.90" width="150.0" height="22.95" fill="#a3cae2"/>
<text class="lab" x="113.2" y="1909.7" textLength="383.8" lengthAdjust="spacing">Angiopoietin/ lipoprotein lipase inhibitor [ANGPTL]</text>
<rect x="547.2" y="1915.85" width="152.8" height="21.95" fill="#eff3ff"/>
<rect x="699.0" y="1915.85" width="154.0" height="21.95" fill="#98c5df"/>
<rect x="852.0" y="1915.85" width="153.0" height="21.95" fill="#eff3ff"/>
<rect x="1004.0" y="1915.85" width="150.0" height="21.95" fill="#75b3d8"/>
<text class="lab" x="179.9" y="1929.6" textLength="317.1" lengthAdjust="spacing">Melanoma-associated antigen p97 [MFI2]</text>
<rect x="510.7" y="1851.0" width="36.7" height="87.0" fill="#000"/>
<text class="cn" x="529.6" y="1904.1" textLength="38.5" lengthAdjust="spacingAndGlyphs">11</text>
<rect x="1173.8" y="1854.4" width="3.8" height="85.3" fill="#000"/>
<rect x="1633.2" y="1854.4" width="3.8" height="85.3" fill="#000"/>
<rect x="547.2" y="1952.00" width="152.8" height="22.88" fill="#c1d9e9"/>
<rect x="699.0" y="1952.00" width="154.0" height="22.88" fill="#cee1ef"/>
<rect x="852.0" y="1952.00" width="153.0" height="22.88" fill="#d6e5f3"/>
<rect x="1004.0" y="1952.00" width="150.0" height="22.88" fill="#94c2de"/>
<text class="lab" x="192.8" y="1967.1" textLength="304.2" lengthAdjust="spacing">Collagen alpha-1(XVII) chain [COL17]</text>
<rect x="547.2" y="1973.88" width="152.8" height="22.88" fill="#eaf0fd"/>
<rect x="699.0" y="1973.88" width="154.0" height="22.88" fill="#c4dbeb"/>
<rect x="852.0" y="1973.88" width="153.0" height="22.88" fill="#d5e4f3"/>
<rect x="1004.0" y="1973.88" width="150.0" height="22.88" fill="#5ea4d0"/>
<text class="lab" x="309.5" y="1990.3" textLength="187.5" lengthAdjust="spacing">Cystatin-A/B [CSTA_B]</text>
<rect x="547.2" y="1995.76" width="152.8" height="22.88" fill="#dee9f7"/>
<rect x="699.0" y="1995.76" width="154.0" height="22.88" fill="#cadeed"/>
<rect x="852.0" y="1995.76" width="153.0" height="22.88" fill="#dce8f6"/>
<rect x="1004.0" y="1995.76" width="150.0" height="22.88" fill="#5fa5d1"/>
<text class="lab" x="3.8" y="2013.5" textLength="493.2" lengthAdjust="spacing">NADH dehydrogenase (ubiquinone) flavoprotein 2  [NDUFV2]</text>
<rect x="547.2" y="2017.64" width="152.8" height="22.88" fill="#d6e5f3"/>
<rect x="699.0" y="2017.64" width="154.0" height="22.88" fill="#c7ddec"/>
<rect x="852.0" y="2017.64" width="153.0" height="22.88" fill="#dbe8f5"/>
<rect x="1004.0" y="2017.64" width="150.0" height="22.88" fill="#6baed6"/>
<text class="lab" x="124.9" y="2033.4" textLength="372.1" lengthAdjust="spacing">Phosphoinositide 3-kinase adapter  [PIK3AP1]</text>
<rect x="547.2" y="2039.52" width="152.8" height="22.88" fill="#dde9f6"/>
<rect x="699.0" y="2039.52" width="154.0" height="22.88" fill="#d6e5f3"/>
<rect x="852.0" y="2039.52" width="153.0" height="22.88" fill="#d8e6f4"/>
<rect x="1004.0" y="2039.52" width="150.0" height="22.88" fill="#519acb"/>
<text class="lab" x="78.1" y="2056.6" textLength="418.9" lengthAdjust="spacing">Apolipoprotein D and lipocalin family protein [APOD]</text>
<rect x="547.2" y="2061.40" width="152.8" height="22.88" fill="#d6e5f3"/>
<rect x="699.0" y="2061.40" width="154.0" height="22.88" fill="#d4e4f2"/>
<rect x="852.0" y="2061.40" width="153.0" height="22.88" fill="#d4e4f2"/>
<rect x="1004.0" y="2061.40" width="150.0" height="22.88" fill="#65aad4"/>
<text class="lab" x="214.4" y="2076.6" textLength="282.6" lengthAdjust="spacing">Gamma-glutamyl hydrolase  [GGH]</text>
<rect x="547.2" y="2083.28" width="152.8" height="22.88" fill="#dde9f6"/>
<rect x="699.0" y="2083.28" width="154.0" height="22.88" fill="#d6e5f3"/>
<rect x="852.0" y="2083.28" width="153.0" height="22.88" fill="#dde9f6"/>
<rect x="1004.0" y="2083.28" width="150.0" height="22.88" fill="#4793c6"/>
<text class="lab" x="74.1" y="2099.8" textLength="422.9" lengthAdjust="spacing">Calcium homeostasis modulator protein 2 [CALHM2]</text>
<rect x="547.2" y="2105.16" width="152.8" height="22.88" fill="#e4edfa"/>
<rect x="699.0" y="2105.16" width="154.0" height="22.88" fill="#dbe8f5"/>
<rect x="852.0" y="2105.16" width="153.0" height="22.88" fill="#e4edfa"/>
<rect x="1004.0" y="2105.16" width="150.0" height="22.88" fill="#2d7dba"/>
<text class="lab" x="362.0" y="2119.7" textLength="135.0" lengthAdjust="spacing">Chitinase [CHIC]</text>
<rect x="547.2" y="2127.04" width="152.8" height="22.88" fill="#ccdfee"/>
<rect x="699.0" y="2127.04" width="154.0" height="22.88" fill="#d4e4f2"/>
<rect x="852.0" y="2127.04" width="153.0" height="22.88" fill="#cee1ef"/>
<rect x="1004.0" y="2127.04" width="150.0" height="22.88" fill="#84badb"/>
<text class="lab" x="229.7" y="2143.3" textLength="267.3" lengthAdjust="spacing">Collagen, type IV, alpha [COL4A]</text>
<rect x="547.2" y="2148.92" width="152.8" height="22.88" fill="#e4edfa"/>
<rect x="699.0" y="2148.92" width="154.0" height="22.88" fill="#eff3ff"/>
<rect x="852.0" y="2148.92" width="153.0" height="22.88" fill="#e4edfa"/>
<rect x="1004.0" y="2148.92" width="150.0" height="22.88" fill="#1865a9"/>
<text class="lab" x="343.4" y="2166.5" textLength="153.6" lengthAdjust="spacing">Uncharacterized [-]</text>
<rect x="547.2" y="2170.80" width="152.8" height="22.88" fill="#eff3ff"/>
<rect x="699.0" y="2170.80" width="154.0" height="22.88" fill="#eff3ff"/>
<rect x="852.0" y="2170.80" width="153.0" height="22.88" fill="#e5edfa"/>
<rect x="1004.0" y="2170.80" width="150.0" height="22.88" fill="#0a539e"/>
<text class="lab" x="199.8" y="2186.4" textLength="297.2" lengthAdjust="spacing">Phenylalanine-4-hydroxylase  [PhhA]</text>
<rect x="547.2" y="2192.68" width="152.8" height="22.88" fill="#eff3ff"/>
<rect x="699.0" y="2192.68" width="154.0" height="22.88" fill="#eff3ff"/>
<rect x="852.0" y="2192.68" width="153.0" height="22.88" fill="#e2ecf9"/>
<rect x="1004.0" y="2192.68" width="150.0" height="22.88" fill="#0a539e"/>
<text class="lab" x="273.8" y="2209.6" textLength="223.2" lengthAdjust="spacing">Ferritin heavy chain  [FTH1]</text>
<rect x="547.2" y="2214.56" width="152.8" height="22.88" fill="#d6e5f3"/>
<rect x="699.0" y="2214.56" width="154.0" height="22.88" fill="#eaf0fd"/>
<rect x="852.0" y="2214.56" width="153.0" height="22.88" fill="#c7ddec"/>
<rect x="1004.0" y="2214.56" width="150.0" height="22.88" fill="#519acb"/>
<text class="lab" x="268.8" y="2229.5" textLength="228.2" lengthAdjust="spacing">Protein phosphotase [PPP2]</text>
<rect x="547.2" y="2236.44" width="152.8" height="22.88" fill="#eff3ff"/>
<rect x="699.0" y="2236.44" width="154.0" height="22.88" fill="#eff3ff"/>
<rect x="852.0" y="2236.44" width="153.0" height="22.88" fill="#cadeed"/>
<rect x="1004.0" y="2236.44" width="150.0" height="22.88" fill="#1f6cae"/>
<text class="lab" x="77.8" y="2252.4" textLength="419.2" lengthAdjust="spacing">Betaine-homocysteine S-methyltransferase  [BHMT]</text>
<rect x="547.2" y="2258.32" width="152.8" height="22.88" fill="#d6e5f3"/>
<rect x="699.0" y="2258.32" width="154.0" height="22.88" fill="#d6e5f3"/>
<rect x="852.0" y="2258.32" width="153.0" height="22.88" fill="#c7ddec"/>
<rect x="1004.0" y="2258.32" width="150.0" height="22.88" fill="#6aadd6"/>
<text class="lab" x="297.0" y="2275.6" textLength="200.0" lengthAdjust="spacing">Chymotrypsin C  [CTRC]</text>
<rect x="547.2" y="2280.20" width="152.8" height="22.88" fill="#eff3ff"/>
<rect x="699.0" y="2280.20" width="154.0" height="22.88" fill="#eff3ff"/>
<rect x="852.0" y="2280.20" width="153.0" height="22.88" fill="#e0ebf8"/>
<rect x="1004.0" y="2280.20" width="150.0" height="22.88" fill="#0f5aa2"/>
<text class="lab" x="179.2" y="2295.5" textLength="317.8" lengthAdjust="spacing">Serine-glyoxylate transaminase [AGXT]</text>
<rect x="547.2" y="2302.08" width="152.8" height="22.88" fill="#ecf2fe"/>
<rect x="699.0" y="2302.08" width="154.0" height="22.88" fill="#eff3ff"/>
<rect x="852.0" y="2302.08" width="153.0" height="22.88" fill="#dde9f6"/>
<rect x="1004.0" y="2302.08" width="150.0" height="22.88" fill="#1865a9"/>
<text class="lab" x="194.2" y="2318.7" textLength="302.8" lengthAdjust="spacing">Glycine N-methyltransferase  [GNMT]</text>
<rect x="547.2" y="2323.96" width="152.8" height="22.88" fill="#eff3ff"/>
<rect x="699.0" y="2323.96" width="154.0" height="22.88" fill="#eff3ff"/>
<rect x="852.0" y="2323.96" width="153.0" height="22.88" fill="#dde9f6"/>
<rect x="1004.0" y="2323.96" width="150.0" height="22.88" fill="#125da4"/>
<text class="lab" x="353.7" y="2338.5" textLength="143.3" lengthAdjust="spacing">Aggrecan [ACAN]</text>
<rect x="547.2" y="2345.84" width="152.8" height="22.88" fill="#eff3ff"/>
<rect x="699.0" y="2345.84" width="154.0" height="22.88" fill="#e8effb"/>
<rect x="852.0" y="2345.84" width="153.0" height="22.88" fill="#d6e5f3"/>
<rect x="1004.0" y="2345.84" width="150.0" height="22.88" fill="#2573b3"/>
<text class="lab" x="193.5" y="2361.9" textLength="303.5" lengthAdjust="spacing">CD209 antigen-like protein E [CD209]</text>
<rect x="547.2" y="2367.72" width="152.8" height="22.88" fill="#e1ebf8"/>
<rect x="699.0" y="2367.72" width="154.0" height="22.88" fill="#e6eefb"/>
<rect x="852.0" y="2367.72" width="153.0" height="22.88" fill="#d1e2f1"/>
<rect x="1004.0" y="2367.72" width="150.0" height="22.88" fill="#3484be"/>
<text class="lab" x="61.2" y="2381.8" textLength="435.8" lengthAdjust="spacing">SH3 domain-containing kinase-binding protein 1 [SH3]</text>
<rect x="547.2" y="2389.60" width="152.8" height="22.88" fill="#e1ebf8"/>
<rect x="699.0" y="2389.60" width="154.0" height="22.88" fill="#d2e3f1"/>
<rect x="852.0" y="2389.60" width="153.0" height="22.88" fill="#c4dbeb"/>
<rect x="1004.0" y="2389.60" width="150.0" height="22.88" fill="#5ea4d0"/>
<text class="lab" x="132.2" y="2405.0" textLength="364.8" lengthAdjust="spacing">C-type lectin domain-containing protein [LEC]</text>
<rect x="547.2" y="2411.48" width="152.8" height="22.88" fill="#ebf1fd"/>
<rect x="699.0" y="2411.48" width="154.0" height="22.88" fill="#e8effb"/>
<rect x="852.0" y="2411.48" width="153.0" height="22.88" fill="#b6d4e6"/>
<rect x="1004.0" y="2411.48" width="150.0" height="22.88" fill="#3a89c1"/>
<text class="lab" x="96.7" y="2428.2" textLength="400.3" lengthAdjust="spacing">Formyltetrahydrofolate dehydrogenase  [ALDH1L]</text>
<rect x="547.2" y="2433.36" width="152.8" height="22.88" fill="#e0ebf8"/>
<rect x="699.0" y="2433.36" width="154.0" height="22.88" fill="#e8effb"/>
<rect x="852.0" y="2433.36" width="153.0" height="22.88" fill="#c0d8e8"/>
<rect x="1004.0" y="2433.36" width="150.0" height="22.88" fill="#408dc3"/>
<text class="lab" x="98.7" y="2448.1" textLength="398.3" lengthAdjust="spacing">1-pyrroline-5-carboxylate dehydrogenase  [P5CD]</text>
<rect x="547.2" y="2455.24" width="152.8" height="22.88" fill="#ebf1fd"/>
<rect x="699.0" y="2455.24" width="154.0" height="22.88" fill="#eef2ff"/>
<rect x="852.0" y="2455.24" width="153.0" height="22.88" fill="#c4dbeb"/>
<rect x="1004.0" y="2455.24" width="150.0" height="22.88" fill="#2674b4"/>
<text class="lab" x="102.6" y="2471.3" textLength="394.4" lengthAdjust="spacing">PG_binding_1 domain-containing protein [PGBD]</text>
<rect x="547.2" y="2477.12" width="152.8" height="21.88" fill="#dae7f5"/>
<rect x="699.0" y="2477.12" width="154.0" height="21.88" fill="#dbe8f5"/>
<rect x="852.0" y="2477.12" width="153.0" height="21.88" fill="#c2dae9"/>
<rect x="1004.0" y="2477.12" width="150.0" height="21.88" fill="#5ea4d0"/>
<text class="lab" x="288.7" y="2491.2" textLength="208.3" lengthAdjust="spacing">Gamma-crystallin [CRYG]</text>
<rect x="510.7" y="1953.2" width="36.7" height="546.8" fill="#000"/>
<text class="cn" x="528.4" y="2240.0">12</text>
<rect x="1173.8" y="1953.2" width="3.8" height="546.8" fill="#000"/>
<rect x="1633.2" y="1953.2" width="3.8" height="546.8" fill="#000"/>
<ellipse cx="1187.1" cy="206.9" rx="7.8" ry="7.9" fill="#ff0000"/>
<text class="rot" transform="translate(1191.5,198.0) rotate(-60)" x="0" y="0">N met.</text>
<ellipse cx="1213.9" cy="206.9" rx="7.8" ry="7.9" fill="#ff6600"/>
<text class="rot" transform="translate(1218.3,198.0) rotate(-60)" x="0" y="0">C met.</text>
<ellipse cx="1240.8" cy="206.9" rx="7.8" ry="7.9" fill="#ffe14f"/>
<text class="rot" transform="translate(1245.2,198.0) rotate(-60)" x="0" y="0">AA met.</text>
<ellipse cx="1267.6" cy="206.9" rx="7.8" ry="7.9" fill="#008000"/>
<text class="rot" transform="translate(1272.0,198.0) rotate(-60)" x="0" y="0">Lipid met.</text>
<ellipse cx="1294.5" cy="206.9" rx="7.8" ry="7.9" fill="#3366ff"/>
<text class="rot" transform="translate(1298.9,198.0) rotate(-60)" x="0" y="0">Peptide degrad.</text>
<ellipse cx="1321.3" cy="206.9" rx="7.8" ry="7.9" fill="#5f497a"/>
<text class="rot" transform="translate(1325.7,198.0) rotate(-60)" x="0" y="0">AA biosyn.</text>
<ellipse cx="1348.1" cy="206.9" rx="7.8" ry="7.9" fill="#6600ff"/>
<text class="rot" transform="translate(1352.5,198.0) rotate(-60)" x="0" y="0">Biosyn. 2<tspan font-size="15" dy="-5">nd</tspan><tspan dy="5"> metab.</tspan></text>
<ellipse cx="1375.0" cy="206.9" rx="7.8" ry="7.9" fill="#990000"/>
<text class="rot" transform="translate(1379.4,198.0) rotate(-60)" x="0" y="0">DNA translat./transcrpt.</text>
<ellipse cx="1401.8" cy="206.9" rx="7.8" ry="7.9" fill="#808080"/>
<text class="rot" transform="translate(1406.2,198.0) rotate(-60)" x="0" y="0">Ox. phosphorylation</text>
<ellipse cx="1428.7" cy="206.9" rx="7.8" ry="7.9" fill="#00ffff"/>
<text class="rot" transform="translate(1432.6,197.5) rotate(-60)" x="0" y="0">Oxidoreduct. activ.</text>
<ellipse cx="1455.5" cy="206.9" rx="7.8" ry="7.9" fill="#fac090"/>
<text class="rot" transform="translate(1459.9,198.0) rotate(-60)" x="0" y="0">Endo/symbiosome activ.</text>
<ellipse cx="1482.3" cy="206.9" rx="7.8" ry="7.9" fill="#ff0099"/>
<text class="rot" transform="translate(1488.2,195.4) rotate(-60)" x="0" y="0">Lysosome activ.</text>
<ellipse cx="1509.2" cy="206.9" rx="7.8" ry="7.9" fill="#93cddd"/>
<text class="rot" transform="translate(1513.6,197.5) rotate(-60)" x="0" y="0">Extracellular matrix</text>
<ellipse cx="1536.0" cy="206.9" rx="7.8" ry="7.9" fill="#000000"/>
<text class="rot" transform="translate(1541.9,195.4) rotate(-60)" x="0" y="0">Immune response</text>
<ellipse cx="1562.9" cy="207.5" rx="8.1" ry="9.3" fill="#385723"/>
<text class="rot" transform="translate(1567.3,198.0) rotate(-60)" x="0" y="0">Viral <tspan font-weight="bold">D</tspan>ef. / <tspan font-weight="bold">R</tspan>ep.</text>
<ellipse cx="1589.7" cy="206.9" rx="7.8" ry="7.9" fill="#ff6600"/>
<text class="rot" transform="translate(1592.3,198.3) rotate(-60)" x="0" y="0">CO<tspan font-size="15" dy="4.5">2</tspan><tspan dy="-4.5"> subst. - /prod</tspan><tspan font-size="15" dy="-5">+</tspan></text>
<ellipse cx="1616.5" cy="206.9" rx="7.8" ry="7.9" fill="#8eb4e3"/>
<text class="rot" transform="translate(1618.6,198.3) rotate(-60)" x="0" y="0">Ca<tspan font-size="15.5" dy="-4">2+</tspan><tspan dy="4"> binding</tspan></text>
<ellipse cx="1536.2" cy="229.6" rx="8.05" ry="7.15" fill="#000000"/>
<ellipse cx="1376.2" cy="252.1" rx="8.05" ry="7.15" fill="#990000"/>
<ellipse cx="1216.2" cy="274.2" rx="8.05" ry="7.15" fill="#ff6600"/>
<ellipse cx="1509.5" cy="274.2" rx="8.05" ry="7.15" fill="#93cddd"/>
<ellipse cx="1536.2" cy="274.2" rx="8.05" ry="7.15" fill="#000000"/>
<ellipse cx="1349.5" cy="296.4" rx="8.05" ry="7.15" fill="#6600ff"/>
<ellipse cx="1349.5" cy="340.6" rx="8.05" ry="7.15" fill="#6600ff"/>
<ellipse cx="1376.2" cy="397.5" rx="8.05" ry="7.15" fill="#990000"/>
<ellipse cx="1349.5" cy="419.6" rx="8.05" ry="7.15" fill="#6600ff"/>
<ellipse cx="1349.5" cy="449.8" rx="8.05" ry="7.15" fill="#6600ff"/>
<ellipse cx="1509.5" cy="449.8" rx="8.05" ry="7.15" fill="#93cddd"/>
<ellipse cx="1536.2" cy="449.8" rx="8.05" ry="7.15" fill="#000000"/>
<ellipse cx="1296.2" cy="472.0" rx="8.05" ry="7.15" fill="#3366ff"/>
<ellipse cx="1376.2" cy="472.0" rx="8.05" ry="7.15" fill="#990000"/>
<ellipse cx="1296.2" cy="494.0" rx="8.05" ry="7.15" fill="#3366ff"/>
<ellipse cx="1216.2" cy="516.0" rx="8.05" ry="7.15" fill="#ff6600"/>
<ellipse cx="1296.2" cy="516.0" rx="8.05" ry="7.15" fill="#3366ff"/>
<ellipse cx="1376.2" cy="516.0" rx="8.05" ry="7.15" fill="#990000"/>
<ellipse cx="1296.2" cy="538.2" rx="8.05" ry="7.15" fill="#3366ff"/>
<ellipse cx="1456.2" cy="538.2" rx="8.05" ry="7.15" fill="#fac090"/>
<ellipse cx="1216.2" cy="560.3" rx="8.05" ry="7.15" fill="#ff6600"/>
<ellipse cx="1349.5" cy="560.3" rx="8.05" ry="7.15" fill="#6600ff"/>
<ellipse cx="1536.2" cy="582.4" rx="8.05" ry="7.15" fill="#000000"/>
<ellipse cx="1456.2" cy="604.6" rx="8.05" ry="7.15" fill="#fac090"/>
<ellipse cx="1296.2" cy="626.7" rx="8.05" ry="7.15" fill="#3366ff"/>
<ellipse cx="1189.5" cy="648.8" rx="8.05" ry="7.15" fill="#ff0000"/>
<ellipse cx="1242.8" cy="648.8" rx="8.05" ry="7.15" fill="#ffe14f"/>
<ellipse cx="1322.8" cy="648.8" rx="8.05" ry="7.15" fill="#5f497a"/>
<ellipse cx="1349.5" cy="648.8" rx="8.05" ry="7.15" fill="#6600ff"/>
<ellipse cx="1216.2" cy="671.0" rx="8.05" ry="7.15" fill="#ff6600"/>
<ellipse cx="1349.5" cy="671.0" rx="8.05" ry="7.15" fill="#6600ff"/>
<ellipse cx="1456.2" cy="693.1" rx="8.05" ry="7.15" fill="#fac090"/>
<ellipse cx="1189.5" cy="715.2" rx="8.05" ry="7.15" fill="#ff0000"/>
<ellipse cx="1242.8" cy="715.2" rx="8.05" ry="7.15" fill="#ffe14f"/>
<ellipse cx="1216.2" cy="737.3" rx="8.05" ry="7.15" fill="#ff6600"/>
<ellipse cx="1349.5" cy="737.3" rx="8.05" ry="7.15" fill="#6600ff"/>
<ellipse cx="1189.5" cy="759.5" rx="8.05" ry="7.15" fill="#ff0000"/>
<ellipse cx="1322.8" cy="759.5" rx="8.05" ry="7.15" fill="#5f497a"/>
<ellipse cx="1429.5" cy="781.6" rx="8.05" ry="7.15" fill="#00ffff"/>
<ellipse cx="1189.5" cy="825.9" rx="8.05" ry="7.15" fill="#ff0000"/>
<ellipse cx="1242.8" cy="825.9" rx="8.05" ry="7.15" fill="#ffe14f"/>
<ellipse cx="1429.5" cy="825.9" rx="8.05" ry="7.15" fill="#00ffff"/>
<ellipse cx="1509.5" cy="848.0" rx="8.05" ry="7.15" fill="#93cddd"/>
<ellipse cx="1536.2" cy="848.0" rx="8.05" ry="7.15" fill="#000000"/>
<ellipse cx="1616.2" cy="848.0" rx="8.05" ry="7.15" fill="#8eb4e3"/>
<ellipse cx="1189.5" cy="870.1" rx="8.05" ry="7.15" fill="#ff0000"/>
<ellipse cx="1216.2" cy="870.1" rx="8.05" ry="7.15" fill="#ff6600"/>
<ellipse cx="1242.8" cy="870.1" rx="8.05" ry="7.15" fill="#ffe14f"/>
<ellipse cx="1456.2" cy="892.3" rx="8.05" ry="7.15" fill="#fac090"/>
<ellipse cx="1536.2" cy="892.3" rx="8.05" ry="7.15" fill="#000000"/>
<ellipse cx="1376.2" cy="914.4" rx="8.05" ry="7.15" fill="#990000"/>
<ellipse cx="1456.2" cy="936.5" rx="8.05" ry="7.15" fill="#fac090"/>
<ellipse cx="1536.2" cy="936.5" rx="8.05" ry="7.15" fill="#000000"/>
<ellipse cx="1616.2" cy="936.5" rx="8.05" ry="7.15" fill="#8eb4e3"/>
<ellipse cx="1509.5" cy="958.5" rx="8.05" ry="7.15" fill="#93cddd"/>
<ellipse cx="1616.2" cy="958.5" rx="8.05" ry="7.15" fill="#8eb4e3"/>
<ellipse cx="1376.2" cy="980.8" rx="8.05" ry="7.15" fill="#990000"/>
<ellipse cx="1456.2" cy="1003.0" rx="8.05" ry="7.15" fill="#fac090"/>
<ellipse cx="1456.2" cy="1025.2" rx="8.05" ry="7.15" fill="#fac090"/>
<ellipse cx="1456.2" cy="1047.3" rx="8.05" ry="7.15" fill="#fac090"/>
<ellipse cx="1616.2" cy="1047.3" rx="8.05" ry="7.15" fill="#8eb4e3"/>
<ellipse cx="1456.2" cy="1091.6" rx="8.05" ry="7.15" fill="#fac090"/>
<ellipse cx="1189.5" cy="1113.7" rx="8.05" ry="7.15" fill="#ff0000"/>
<ellipse cx="1296.2" cy="1113.7" rx="8.05" ry="7.15" fill="#3366ff"/>
<ellipse cx="1189.5" cy="1135.8" rx="8.05" ry="7.15" fill="#ff0000"/>
<ellipse cx="1376.2" cy="1135.8" rx="8.05" ry="7.15" fill="#990000"/>
<ellipse cx="1376.2" cy="1158.0" rx="8.05" ry="7.15" fill="#990000"/>
<ellipse cx="1456.2" cy="1158.0" rx="8.05" ry="7.15" fill="#fac090"/>
<ellipse cx="1536.2" cy="1158.0" rx="8.05" ry="7.15" fill="#000000"/>
<ellipse cx="1376.2" cy="1180.1" rx="8.05" ry="7.15" fill="#990000"/>
<ellipse cx="1376.2" cy="1202.2" rx="8.05" ry="7.15" fill="#990000"/>
<ellipse cx="1456.2" cy="1202.2" rx="8.05" ry="7.15" fill="#fac090"/>
<ellipse cx="1536.2" cy="1202.2" rx="8.05" ry="7.15" fill="#000000"/>
<ellipse cx="1216.2" cy="1246.3" rx="8.05" ry="7.15" fill="#ff6600"/>
<ellipse cx="1269.5" cy="1246.3" rx="8.05" ry="7.15" fill="#008000"/>
<ellipse cx="1429.5" cy="1246.3" rx="8.05" ry="7.15" fill="#00ffff"/>
<ellipse cx="1269.5" cy="1278.8" rx="8.05" ry="7.15" fill="#008000"/>
<ellipse cx="1322.8" cy="1301.2" rx="8.05" ry="7.15" fill="#5f497a"/>
<ellipse cx="1429.5" cy="1301.2" rx="8.05" ry="7.15" fill="#00ffff"/>
<ellipse cx="1482.9" cy="1323.3" rx="8.05" ry="7.15" fill="#ff0099"/>
<ellipse cx="1536.2" cy="1323.3" rx="8.05" ry="7.15" fill="#000000"/>
<ellipse cx="1402.9" cy="1362.4" rx="8.05" ry="7.15" fill="#808080"/>
<ellipse cx="1482.9" cy="1362.4" rx="8.05" ry="7.15" fill="#ff0099"/>
<ellipse cx="1536.2" cy="1362.4" rx="8.05" ry="7.15" fill="#000000"/>
<ellipse cx="1402.9" cy="1384.8" rx="8.05" ry="7.15" fill="#808080"/>
<ellipse cx="1482.9" cy="1384.8" rx="8.05" ry="7.15" fill="#ff0099"/>
<ellipse cx="1536.2" cy="1384.8" rx="8.05" ry="7.15" fill="#000000"/>
<ellipse cx="1482.9" cy="1419.8" rx="8.05" ry="7.15" fill="#ff0099"/>
<ellipse cx="1482.9" cy="1478.6" rx="8.05" ry="7.15" fill="#ff0099"/>
<ellipse cx="1482.9" cy="1501.1" rx="8.05" ry="7.15" fill="#ff0099"/>
<ellipse cx="1509.5" cy="1501.1" rx="8.05" ry="7.15" fill="#93cddd"/>
<ellipse cx="1536.2" cy="1501.1" rx="8.05" ry="7.15" fill="#000000"/>
<ellipse cx="1509.5" cy="1535.5" rx="8.05" ry="7.15" fill="#93cddd"/>
<ellipse cx="1616.2" cy="1535.5" rx="8.05" ry="7.15" fill="#8eb4e3"/>
<ellipse cx="1296.2" cy="1557.7" rx="8.05" ry="7.15" fill="#3366ff"/>
<ellipse cx="1482.9" cy="1601.9" rx="8.05" ry="7.15" fill="#ff0099"/>
<ellipse cx="1482.9" cy="1624.4" rx="8.05" ry="7.15" fill="#ff0099"/>
<ellipse cx="1509.5" cy="1624.4" rx="8.05" ry="7.15" fill="#93cddd"/>
<ellipse cx="1536.2" cy="1624.4" rx="8.05" ry="7.15" fill="#000000"/>
<ellipse cx="1482.9" cy="1646.5" rx="8.05" ry="7.15" fill="#ff0099"/>
<ellipse cx="1536.2" cy="1646.5" rx="8.05" ry="7.15" fill="#000000"/>
<ellipse cx="1509.5" cy="1690.8" rx="8.05" ry="7.15" fill="#93cddd"/>
<ellipse cx="1536.2" cy="1690.8" rx="8.05" ry="7.15" fill="#000000"/>
<ellipse cx="1376.2" cy="1712.9" rx="8.05" ry="7.15" fill="#990000"/>
<ellipse cx="1536.2" cy="1712.9" rx="8.05" ry="7.15" fill="#000000"/>
<ellipse cx="1509.5" cy="1747.6" rx="8.05" ry="7.15" fill="#93cddd"/>
<ellipse cx="1536.2" cy="1747.6" rx="8.05" ry="7.15" fill="#000000"/>
<ellipse cx="1189.5" cy="1770.1" rx="8.05" ry="7.15" fill="#ff0000"/>
<ellipse cx="1242.8" cy="1770.1" rx="8.05" ry="7.15" fill="#ffe14f"/>
<ellipse cx="1269.5" cy="1828.0" rx="8.05" ry="7.15" fill="#008000"/>
<ellipse cx="1482.9" cy="1828.0" rx="8.05" ry="7.15" fill="#ff0099"/>
<ellipse cx="1509.5" cy="1828.0" rx="8.05" ry="7.15" fill="#93cddd"/>
<ellipse cx="1536.2" cy="1828.0" rx="8.05" ry="7.15" fill="#000000"/>
<ellipse cx="1429.5" cy="1862.0" rx="8.05" ry="7.15" fill="#00ffff"/>
<ellipse cx="1509.5" cy="1884.5" rx="8.05" ry="7.15" fill="#93cddd"/>
<ellipse cx="1536.2" cy="1884.5" rx="8.05" ry="7.15" fill="#000000"/>
<ellipse cx="1269.5" cy="1906.6" rx="8.05" ry="7.15" fill="#008000"/>
<ellipse cx="1482.9" cy="1928.8" rx="8.05" ry="7.15" fill="#ff0099"/>
<ellipse cx="1509.5" cy="1928.8" rx="8.05" ry="7.15" fill="#93cddd"/>
<ellipse cx="1536.2" cy="1928.8" rx="8.05" ry="7.15" fill="#000000"/>
<ellipse cx="1509.5" cy="1965.4" rx="8.05" ry="7.15" fill="#93cddd"/>
<ellipse cx="1536.2" cy="1965.4" rx="8.05" ry="7.15" fill="#000000"/>
<ellipse cx="1482.9" cy="1987.6" rx="8.05" ry="7.15" fill="#ff0099"/>
<ellipse cx="1402.9" cy="2009.4" rx="8.05" ry="7.15" fill="#808080"/>
<ellipse cx="1536.2" cy="2031.5" rx="8.05" ry="7.15" fill="#000000"/>
<ellipse cx="1269.5" cy="2053.3" rx="8.05" ry="7.15" fill="#008000"/>
<ellipse cx="1429.5" cy="2053.3" rx="8.05" ry="7.15" fill="#00ffff"/>
<ellipse cx="1536.2" cy="2053.3" rx="8.05" ry="7.15" fill="#000000"/>
<ellipse cx="1296.2" cy="2075.2" rx="8.05" ry="7.15" fill="#3366ff"/>
<ellipse cx="1349.5" cy="2075.2" rx="8.05" ry="7.15" fill="#6600ff"/>
<ellipse cx="1482.9" cy="2075.2" rx="8.05" ry="7.15" fill="#ff0099"/>
<ellipse cx="1616.2" cy="2097.0" rx="8.05" ry="7.15" fill="#8eb4e3"/>
<ellipse cx="1189.5" cy="2119.1" rx="8.05" ry="7.15" fill="#ff0000"/>
<ellipse cx="1216.2" cy="2119.1" rx="8.05" ry="7.15" fill="#ff6600"/>
<ellipse cx="1509.5" cy="2140.9" rx="8.05" ry="7.15" fill="#93cddd"/>
<ellipse cx="1536.2" cy="2140.9" rx="8.05" ry="7.15" fill="#000000"/>
<ellipse cx="1536.2" cy="2162.7" rx="8.05" ry="7.15" fill="#000000"/>
<ellipse cx="1189.5" cy="2184.9" rx="8.05" ry="7.15" fill="#ff0000"/>
<ellipse cx="1216.2" cy="2184.9" rx="8.05" ry="7.15" fill="#ff6600"/>
<ellipse cx="1242.8" cy="2184.9" rx="8.05" ry="7.15" fill="#ffe14f"/>
<ellipse cx="1349.5" cy="2184.9" rx="8.05" ry="7.15" fill="#6600ff"/>
<ellipse cx="1509.5" cy="2228.8" rx="8.05" ry="7.15" fill="#93cddd"/>
<ellipse cx="1536.2" cy="2228.8" rx="8.05" ry="7.15" fill="#000000"/>
<ellipse cx="1189.5" cy="2250.6" rx="8.05" ry="7.15" fill="#ff0000"/>
<ellipse cx="1242.8" cy="2250.6" rx="8.05" ry="7.15" fill="#ffe14f"/>
<ellipse cx="1349.5" cy="2250.6" rx="8.05" ry="7.15" fill="#6600ff"/>
<ellipse cx="1296.2" cy="2272.4" rx="8.05" ry="7.15" fill="#3366ff"/>
<ellipse cx="1482.9" cy="2272.4" rx="8.05" ry="7.15" fill="#ff0099"/>
<ellipse cx="1189.5" cy="2294.4" rx="8.05" ry="7.15" fill="#ff0000"/>
<ellipse cx="1216.2" cy="2294.4" rx="8.05" ry="7.15" fill="#ff6600"/>
<ellipse cx="1242.8" cy="2294.4" rx="8.05" ry="7.15" fill="#ffe14f"/>
<ellipse cx="1349.5" cy="2294.4" rx="8.05" ry="7.15" fill="#6600ff"/>
<ellipse cx="1189.5" cy="2316.4" rx="8.05" ry="7.15" fill="#ff0000"/>
<ellipse cx="1242.8" cy="2316.4" rx="8.05" ry="7.15" fill="#ffe14f"/>
<ellipse cx="1216.2" cy="2338.2" rx="8.05" ry="7.15" fill="#ff6600"/>
<ellipse cx="1482.9" cy="2359.9" rx="8.05" ry="7.15" fill="#ff0099"/>
<ellipse cx="1536.2" cy="2359.9" rx="8.05" ry="7.15" fill="#000000"/>
<ellipse cx="1456.2" cy="2382.0" rx="8.05" ry="7.15" fill="#fac090"/>
<ellipse cx="1482.9" cy="2382.0" rx="8.05" ry="7.15" fill="#ff0099"/>
<ellipse cx="1482.9" cy="2403.8" rx="8.05" ry="7.15" fill="#ff0099"/>
<ellipse cx="1509.5" cy="2403.8" rx="8.05" ry="7.15" fill="#93cddd"/>
<ellipse cx="1536.2" cy="2403.8" rx="8.05" ry="7.15" fill="#000000"/>
<ellipse cx="1616.2" cy="2403.8" rx="8.05" ry="7.15" fill="#8eb4e3"/>
<ellipse cx="1189.5" cy="2425.6" rx="8.05" ry="7.15" fill="#ff0000"/>
<ellipse cx="1216.2" cy="2425.6" rx="8.05" ry="7.15" fill="#ff6600"/>
<ellipse cx="1349.5" cy="2425.6" rx="8.05" ry="7.15" fill="#6600ff"/>
<ellipse cx="1429.5" cy="2425.6" rx="8.05" ry="7.15" fill="#00ffff"/>
<ellipse cx="1189.5" cy="2447.8" rx="8.05" ry="7.15" fill="#ff0000"/>
<ellipse cx="1216.2" cy="2447.8" rx="8.05" ry="7.15" fill="#ff6600"/>
<ellipse cx="1242.8" cy="2447.8" rx="8.05" ry="7.15" fill="#ffe14f"/>
<ellipse cx="1349.5" cy="2447.8" rx="8.05" ry="7.15" fill="#6600ff"/>
<ellipse cx="1429.5" cy="2447.8" rx="8.05" ry="7.15" fill="#00ffff"/>
<ellipse cx="1482.9" cy="2469.6" rx="8.05" ry="7.15" fill="#ff0099"/>
<ellipse cx="1509.5" cy="2469.6" rx="8.05" ry="7.15" fill="#93cddd"/>
<ellipse cx="1536.2" cy="2469.6" rx="8.05" ry="7.15" fill="#000000"/>
<ellipse cx="1536.2" cy="2491.4" rx="8.05" ry="7.15" fill="#000000"/>
<text x="1562.5" y="236.2" font-size="19.2" fill="#77933c" stroke="#77933c" stroke-width="0.3" font-weight="bold" text-anchor="middle" textLength="14.4" lengthAdjust="spacingAndGlyphs">D</text>
<text x="1562.6" y="2168.2" font-size="19.2" fill="#0af832" stroke="#0af832" stroke-width="0.3" font-weight="bold" text-anchor="middle" textLength="13.6" lengthAdjust="spacingAndGlyphs">R</text>
<text x="1589.2" y="719.1" font-size="14.6" fill="#ff6600" stroke="#ff6600" stroke-width="0.55" font-weight="normal" text-anchor="middle" textLength="38.6" lengthAdjust="spacingAndGlyphs">+CO2</text>
<text x="1589.3" y="1584.3" font-size="14.6" fill="#ff6600" stroke="#ff6600" stroke-width="0.55" font-weight="normal" text-anchor="middle" textLength="34.4" lengthAdjust="spacingAndGlyphs">-CO2</text>
<text x="1589.2" y="1773.8" font-size="14.6" fill="#ff6600" stroke="#ff6600" stroke-width="0.55" font-weight="normal" text-anchor="middle" textLength="38.6" lengthAdjust="spacingAndGlyphs">+CO2</text>
<text x="1589.2" y="2188.3" font-size="14.6" fill="#ff6600" stroke="#ff6600" stroke-width="0.55" font-weight="normal" text-anchor="middle" textLength="38.6" lengthAdjust="spacingAndGlyphs">+CO2</text>
</svg></body></html>
